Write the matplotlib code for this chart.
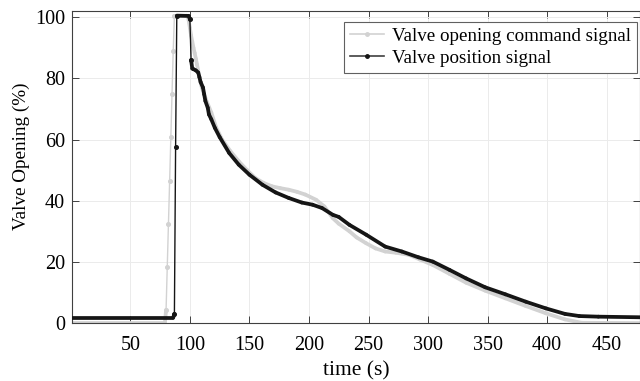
import numpy as np
import matplotlib
matplotlib.use('Agg')
import matplotlib.pyplot as plt
from matplotlib.collections import LineCollection
from matplotlib.lines import Line2D

plt.rcParams['font.family'] = ['Liberation Serif', 'DejaVu Serif']
plt.rcParams['mathtext.fontset'] = 'stix'

# Datos
t_cmd = [1, 79, 80, 81, 82, 83, 84, 85, 86, 87, 97, 98, 99, 100, 101, 102, 103, 104,
         105, 106, 107, 108, 110, 113, 118, 122, 127, 134, 141, 148, 155, 162, 169,
         176, 183, 190, 197, 206, 213, 220, 225, 234, 240, 248, 256, 264, 273, 284,
         293, 304, 318, 332, 348, 365, 382, 399, 415, 429, 478]
v_cmd = [0, 0, 4.3, 18.4, 32.5, 46.5, 60.7, 75.0, 89.0, 100.5, 100.5, 100.3, 99.0,
         96.5, 94.0, 92.0, 90.0, 88.3, 86.4, 84.5, 82.4, 80.2, 77.0, 73.6, 68.8, 64.0,
         60.0, 56.2, 52.9, 50.0, 47.4, 45.8, 44.7, 44.1, 43.6, 42.9, 42.0, 40.3, 38.1,
         34.3, 32.5, 30.0, 28.0, 26.1, 24.4, 23.4, 23.0, 22.3, 20.8, 19.0, 16.1, 13.2,
         10.6, 8.1, 5.6, 3.2, 1.2, 0.1, 0.0]

t_pos = [1, 86, 87, 88, 89, 99, 100, 101, 102, 103, 105, 107, 108, 109, 111, 112,
         113, 115, 116, 118, 121, 125, 133, 141, 150, 161, 172, 183, 194, 203, 211,
         220, 225, 234, 248, 264, 278, 292, 304, 318, 332, 348, 365, 382, 399, 415,
         427, 443, 478]
v_pos = [1.8, 1.8, 3.0, 57.4, 100.5, 100.4, 99.3, 86.0, 83.2, 83.0, 82.6, 81.9, 80.4,
         78.8, 77.0, 74.8, 72.6, 70.4, 68.2, 66.6, 63.8, 60.8, 55.6, 51.8, 48.5, 45.2,
         42.7, 40.9, 39.4, 38.7, 37.6, 35.4, 34.7, 32.1, 28.9, 25.0, 23.4, 21.5, 20.1,
         17.4, 14.6, 11.7, 9.4, 7.0, 4.8, 3.0, 2.3, 2.1, 1.9]

c_cmd = '#d2d2d2'
c_pos = '#151515'


def draw(ax, t, v, color, z):
    t = np.asarray(t, float)
    v = np.asarray(v, float)
    pts = np.column_stack([t, v])
    segs = np.stack([pts[:-1], pts[1:]], axis=1)
    slope = np.abs(np.diff(v)) / np.diff(t)
    steep = slope > 6
    lws = np.where(steep, 1.0, 2.7)
    lc = LineCollection(segs, colors=color, linewidths=lws, capstyle='round',
                        joinstyle='round', zorder=z)
    ax.add_collection(lc)
    # puntos solo donde la curva es empinada (en el resto quedan tapados)
    near = np.zeros(len(t), bool)
    near[:-1] |= steep
    near[1:] |= steep
    ax.plot(t[near], v[near], ls='none', marker='o', ms=2.6, color=color, zorder=z)


fig = plt.figure(figsize=(6.4, 3.81), dpi=100)
ax = fig.add_axes([0.1125, 0.152, 0.8875, 0.819])

draw(ax, t_cmd, v_cmd, c_cmd, 2)
draw(ax, t_pos, v_pos, c_pos, 3)

ax.set_xlim(1, 478)
ax.set_ylim(0, 102)
ax.set_xticks(np.arange(50, 451, 50))
ax.set_yticks(np.arange(0, 101, 20))
ax.grid(True, color='#ebebeb', lw=0.7)
ax.set_axisbelow(True)
ax.tick_params(direction='in', length=5, width=0.7, color='#404040',
               top=True, right=True, labelsize=14.5, pad=5)
ax.tick_params(axis='x', pad=9)
for s in ax.spines.values():
    s.set_color('#404040')
    s.set_linewidth(0.8)

ax.set_xlabel('time (s)', fontsize=15.5, labelpad=5)
ax.set_ylabel('Valve Opening (%)', fontsize=13.8)
ax.yaxis.set_label_coords(-0.074, 0.535)

handles = [Line2D([], [], color=c_cmd, lw=1.2, marker='o', ms=2.5),
           Line2D([], [], color='#404040', lw=1.2, marker='o', ms=2.5,
                  mfc=c_pos, mec=c_pos)]
leg = ax.legend(handles, ['Valve opening command signal', 'Valve position signal'],
                loc='upper right', bbox_to_anchor=(0.995, 0.965), fontsize=13.7,
                frameon=True, fancybox=False, framealpha=1, edgecolor='#606060',
                handlelength=1.8, handletextpad=0.45, borderpad=0.3, labelspacing=0.25,
                borderaxespad=0)
leg.get_frame().set_linewidth(0.8)

fig.savefig('out.png', dpi=100)
